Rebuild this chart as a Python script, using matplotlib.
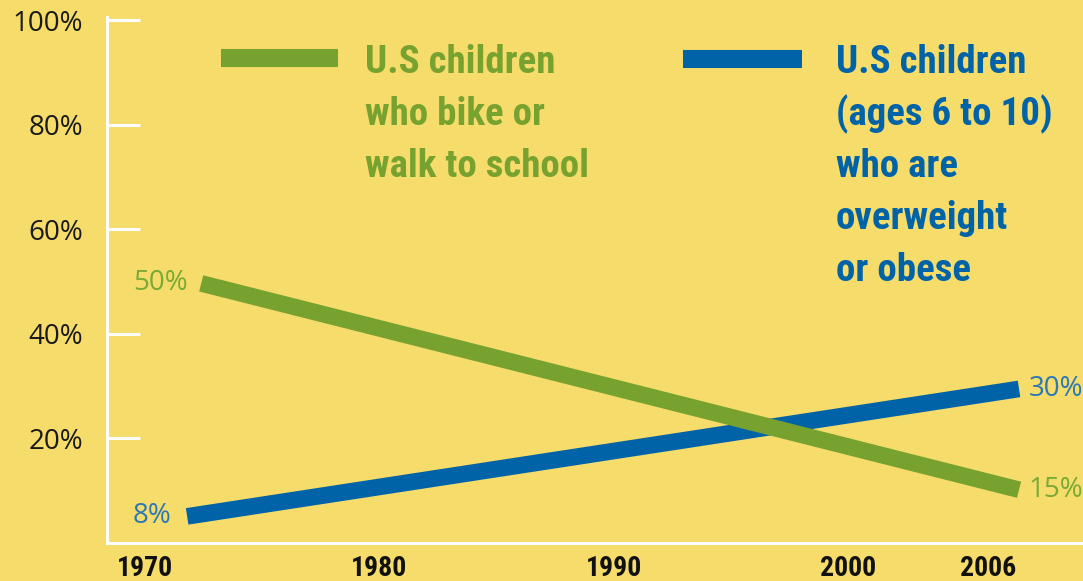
import matplotlib.pyplot as plt
from matplotlib.lines import Line2D

# values (line ends as drawn, labels as printed)
bike_years = [1972.4, 2007.3]
bike_share = [49.6, 10.1]
bike_labels = ['50%', '15%']
obese_years = [1971.8, 2007.3]
obese_share = [5.0, 29.4]
obese_labels = ['8%', '30%']
year_ticks = [1970, 1980, 1990, 2000, 2006]
pct_ticks = [20, 40, 60, 80, 100]
bike_legend = ['U.S children', 'who bike or', 'walk to school']
obese_legend = ['U.S children', '(ages 6 to 10)', 'who are', 'overweight', 'or obese']

BG = '#F6DC6A'
GREEN = '#78A22F'
BLUE = '#0063A8'
GREEN_TXT = '#78AA35'
BLUE_TXT = '#2A78B6'
NARROW = ['Roboto Condensed', 'DejaVu Sans']
W, H = 1083, 581

fig = plt.figure(figsize=(W / 100, H / 100), dpi=100, facecolor=BG)
ax = fig.add_axes([107 / W, (H - 542.5) / H, 1 - 107 / W, (542.5 - 17) / H])
ax.set_facecolor(BG)

ax.plot(obese_years, obese_share, color=BLUE, lw=12, solid_capstyle='butt', zorder=2)
ax.plot(bike_years, bike_share, color=GREEN, lw=12, solid_capstyle='butt', zorder=3)

lab_font = dict(family='Open Sans', fontsize=20, va='center')
ax.annotate(bike_labels[0], (bike_years[0], bike_share[0]), xytext=(-10, 0),
            textcoords='offset points', ha='right', color=GREEN_TXT, **lab_font)
ax.annotate(bike_labels[1], (bike_years[1], bike_share[1]), xytext=(7, 0),
            textcoords='offset points', ha='left', color=GREEN_TXT, annotation_clip=False, **lab_font)
ax.annotate(obese_labels[0], (obese_years[0], obese_share[0]), xytext=(-11, 0),
            textcoords='offset points', ha='right', color=BLUE_TXT, **lab_font)
ax.annotate(obese_labels[1], (obese_years[1], obese_share[1]), xytext=(7, 0),
            textcoords='offset points', ha='left', color=BLUE_TXT, annotation_clip=False, **lab_font)

ax.set_xlim(1968.38, 2010.03)
ax.set_ylim(0, 100.6)
for side in ['top', 'right']:
    ax.spines[side].set_visible(False)
for side in ['left', 'bottom']:
    ax.spines[side].set_color('white')
    ax.spines[side].set_linewidth(2.2)

ax.set_yticks(pct_ticks)
ax.set_yticklabels([f'{p}%' for p in pct_ticks], family='Open Sans', fontsize=20, color='#1a1a1a')
ax.tick_params(axis='y', direction='in', length=24, width=2.2, color='white', pad=17)
ax.set_xticks(year_ticks)
ax.set_xticklabels([str(y) for y in year_ticks], family=NARROW, fontweight='black',
                   fontstretch='condensed', fontsize=20, color='#111111')
ax.tick_params(axis='x', length=0, pad=9)

# legend keys and text, drawn by hand like the original graphic
fig.add_artist(Line2D([221 / W, 338 / W], [1 - 58 / H, 1 - 58 / H], color=GREEN, lw=13,
                      solid_capstyle='butt'))
fig.add_artist(Line2D([683 / W, 802 / W], [1 - 59 / H, 1 - 59 / H], color=BLUE, lw=13,
                      solid_capstyle='butt'))
for i, line in enumerate(bike_legend):
    fig.text(365 / W, 1 - (73 + 52 * i) / H, line, family=NARROW, fontweight='black',
             fontstretch='condensed', fontsize=28, color=GREEN, va='baseline')
for i, line in enumerate(obese_legend):
    fig.text(836 / W, 1 - (73 + 52 * i) / H, line, family=NARROW, fontweight='black',
             fontstretch='condensed', fontsize=28, color=BLUE, va='baseline')

fig.savefig('out.png', dpi=100, facecolor=BG)
